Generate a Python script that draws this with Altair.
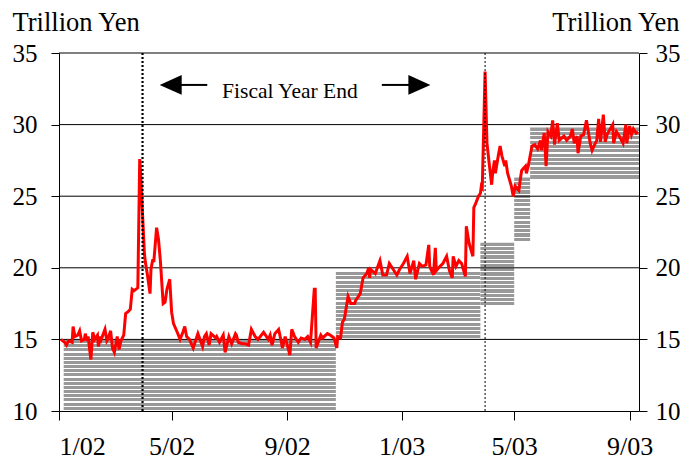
import altair as alt
import pandas as pd

# Current account balance, trillion yen
dates = [
    "2002-01-03", "2002-01-07", "2002-01-09", "2002-01-11", "2002-01-15", "2002-01-16",
    "2002-01-18", "2002-01-21", "2002-01-23", "2002-01-25", "2002-01-28", "2002-01-29",
    "2002-01-31", "2002-02-01", "2002-02-04", "2002-02-06", "2002-02-08", "2002-02-11",
    "2002-02-12", "2002-02-14", "2002-02-15", "2002-02-19", "2002-02-21", "2002-02-22",
    "2002-02-25", "2002-02-27", "2002-03-01", "2002-03-04", "2002-03-06", "2002-03-08",
    "2002-03-11", "2002-03-13", "2002-03-15", "2002-03-18", "2002-03-20", "2002-03-22",
    "2002-03-26", "2002-03-28", "2002-03-29", "2002-04-02", "2002-04-03", "2002-04-05",
    "2002-04-08", "2002-04-09", "2002-04-11", "2002-04-12", "2002-04-15", "2002-04-17",
    "2002-04-19", "2002-04-22", "2002-04-24", "2002-04-26", "2002-04-29", "2002-05-01",
    "2002-05-03", "2002-05-07", "2002-05-10", "2002-05-13", "2002-05-15", "2002-05-17",
    "2002-05-20", "2002-05-24", "2002-05-29", "2002-06-03", "2002-06-05",
    "2002-06-07", "2002-06-10", "2002-06-12", "2002-06-17", "2002-06-18", "2002-06-21",
    "2002-06-25", "2002-06-27", "2002-07-01", "2002-07-04", "2002-07-08", "2002-07-09",
    "2002-07-11", "2002-07-15", "2002-07-18", "2002-07-22", "2002-07-25", "2002-07-29",
    "2002-08-01", "2002-08-07", "2002-08-12", "2002-08-14", "2002-08-16", "2002-08-19",
    "2002-08-23", "2002-08-26", "2002-08-27", "2002-08-30", "2002-09-04", "2002-09-06",
    "2002-09-09", "2002-09-13", "2002-09-16", "2002-09-20", "2002-09-23", "2002-09-26",
    "2002-09-30", "2002-10-01", "2002-10-02", "2002-10-07", "2002-10-09", "2002-10-14",
    "2002-10-17", "2002-10-21", "2002-10-24", "2002-10-25", "2002-10-28",
    "2002-10-30", "2002-11-01", "2002-11-05", "2002-11-08", "2002-11-12", "2002-11-13",
    "2002-11-18", "2002-11-21", "2002-11-25", "2002-11-27", "2002-11-28", "2002-11-29",
    "2002-12-04", "2002-12-09", "2002-12-12", "2002-12-16", "2002-12-19", "2002-12-23",
    "2002-12-27", "2002-12-30", "2003-01-03", "2003-01-07", "2003-01-10", "2003-01-14",
    "2003-01-16", "2003-01-20", "2003-01-23", "2003-01-27", "2003-01-30", "2003-01-31",
    "2003-02-04", "2003-02-06", "2003-02-07", "2003-02-11", "2003-02-14", "2003-02-18",
    "2003-02-21", "2003-02-24", "2003-02-25", "2003-02-28", "2003-03-03", "2003-03-06",
    "2003-03-10", "2003-03-11", "2003-03-14", "2003-03-18", "2003-03-19", "2003-03-21",
    "2003-03-24", "2003-03-26", "2003-03-27", "2003-03-28", "2003-03-31",
    "2003-04-02", "2003-04-04", "2003-04-07", "2003-04-08", "2003-04-10", "2003-04-11",
    "2003-04-14", "2003-04-16", "2003-04-18", "2003-04-21", "2003-04-22", "2003-04-24",
    "2003-04-28", "2003-04-30", "2003-05-02", "2003-05-06", "2003-05-08", "2003-05-09",
    "2003-05-13", "2003-05-14", "2003-05-16", "2003-05-20", "2003-05-23", "2003-05-26",
    "2003-05-29", "2003-05-30", "2003-06-02", "2003-06-04", "2003-06-06", "2003-06-09",
    "2003-06-11", "2003-06-13", "2003-06-16", "2003-06-18", "2003-06-23", "2003-06-26",
    "2003-06-30", "2003-07-02", "2003-07-04", "2003-07-07", "2003-07-08", "2003-07-11",
    "2003-07-14", "2003-07-17", "2003-07-21", "2003-07-23", "2003-07-25", "2003-07-28",
    "2003-07-30", "2003-08-01", "2003-08-04", "2003-08-06", "2003-08-08", "2003-08-14",
    "2003-08-15", "2003-08-18", "2003-08-21", "2003-08-25", "2003-08-28", "2003-08-29",
    "2003-09-01", "2003-09-03", "2003-09-05", "2003-09-08", "2003-09-10",
]
balance = [
    15.0, 14.8, 14.6, 14.9, 14.8, 15.9,
    15.2, 15.3, 15.6, 14.9, 15.0, 15.4,
    14.9, 15.2, 13.6, 15.5, 15.0, 15.3,
    14.5, 15.2, 15.0, 15.7, 14.9, 15.0,
    15.6, 14.4, 14.1, 15.2, 14.3, 14.9,
    15.3, 16.8, 16.9, 17.1, 18.5, 18.4,
    18.6, 27.6, 26.5, 21.0, 20.4, 19.6,
    18.2, 19.9, 20.6, 20.4, 22.8, 22.0,
    20.5, 17.5, 17.6, 18.5, 19.2, 16.9,
    16.1, 15.5, 15.0, 15.5, 15.9, 15.2,
    15.0, 14.4, 15.4, 14.5, 15.2,
    15.4, 14.6, 15.4, 15.1, 15.2, 14.8,
    15.3, 14.1, 15.2, 14.7, 15.4, 15.3,
    14.8, 14.7, 14.7, 14.6, 15.7, 15.2,
    15.0, 15.5, 15.0, 15.3, 14.6, 15.4,
    15.7, 14.8, 14.4, 15.2, 13.9, 15.7,
    15.2, 14.8, 15.1, 15.0, 15.2, 14.8,
    18.5, 18.5, 14.4, 15.3, 15.1, 15.4,
    15.3, 15.1, 14.4, 15.2, 15.1,
    16.2, 16.4, 18.0, 17.5, 17.5, 17.7,
    18.2, 19.3, 19.6, 20.0, 19.3, 19.9,
    19.6, 20.5, 19.5, 19.5, 20.3, 19.9,
    19.5, 19.9, 20.3, 20.8, 19.6, 20.5,
    19.2, 20.3, 20.1, 20.2, 21.6, 20.1,
    19.5, 21.4, 19.8, 20.1, 20.3, 20.8,
    19.8, 19.3, 20.8, 20.1, 20.5, 20.3,
    19.4, 22.9, 21.7, 20.8, 24.2, 24.5,
    25.0, 25.2, 25.7, 25.6, 33.7,
    28.7, 27.5, 25.8, 26.6, 27.5, 26.6,
    27.8, 28.5, 27.8, 27.1, 27.5, 26.6,
    25.7, 25.0, 25.7, 25.4, 26.4, 26.8,
    27.1, 26.6, 27.1, 28.5, 28.6, 28.3,
    28.9, 28.2, 29.4, 27.1, 29.5, 29.2,
    30.3, 28.6, 30.1, 28.9, 29.2, 28.9,
    29.2, 29.7, 28.7, 29.2, 28.0, 29.2,
    29.3, 30.3, 28.7, 28.2, 28.5, 28.9,
    30.4, 28.8, 30.7, 28.8, 29.3, 30.0,
    28.7, 29.5, 29.2, 28.7, 30.0, 28.7,
    29.9, 29.3, 29.7, 29.4, 29.5,
]

# target ranges (hatched blocks)
band_start = ["2002-01-06", "2002-10-23", "2003-03-26", "2003-05-01", "2003-05-18"]
band_end = ["2002-10-23", "2003-03-26", "2003-05-01", "2003-05-18", "2003-09-11"]
band_low = [10.0, 15.0, 17.3, 21.8, 26.15]
band_high = [14.95, 19.7, 21.75, 26.3, 29.8]

fy_end = ["2002-03-31", "2003-03-31"]
grid_vals = [15, 20, 25, 30, 35]
y_ticks = [10, 15, 20, 25, 30, 35]
x_ticks = [(2002, 1), (2002, 5), (2002, 9), (2003, 1), (2003, 5), (2003, 9)]

# annotation placement
note_text = "Fiscal Year End"
note_date = "2002-09-04"
note_val = 31.86
arrow_val = 32.77
left_shaft = ("2002-05-07", "2002-06-08")
left_head = "2002-04-30"
right_shaft = ("2002-12-11", "2003-01-12")
right_head = "2003-01-20"

FONT = "Liberation Serif"
GRAY = "#999999"
W, H = 580, 358

line_df = pd.DataFrame({"date": pd.to_datetime(dates), "value": balance})
band_df = pd.DataFrame({
    "start": pd.to_datetime(band_start), "end": pd.to_datetime(band_end),
    "low": band_low, "high": band_high,
})
fy_df = pd.DataFrame({"date": pd.to_datetime(fy_end)})
grid_df = pd.DataFrame({"v": grid_vals})

xscale = alt.Scale(domain=[alt.DateTime(year=2002, month=1, date=1),
                           alt.DateTime(year=2003, month=9, date=11)])
yscale = alt.Scale(domain=[10, 35], nice=False)

# one x axis shared by every layer (an axis=None in any layer would switch it off)
xaxis = alt.Axis(values=[alt.DateTime(year=y, month=m, date=1) for y, m in x_ticks],
                 format="%-m/%y", labelFont=FONT, labelFontSize=26, labelColor="black",
                 tickSize=9, tickColor="black", domainColor="black", labelPadding=13,
                 grid=False, title=None, zindex=1)


def X(field):
    return alt.X(field, scale=xscale, axis=xaxis)


def stripes(n, share=0.72):
    stops = []
    for i in range(n):
        a, b, c = i / n, (i + share) / n, (i + 1) / n
        stops += [{"offset": a, "color": GRAY}, {"offset": b, "color": GRAY},
                  {"offset": b, "color": "white"}, {"offset": c, "color": "white"}]
    return {"gradient": "linear", "x1": 0, "y1": 0, "x2": 0, "y2": 1, "stops": stops}


band_layers = []
for i in range(len(band_df)):
    px = (band_high[i] - band_low[i]) * H / 25.0
    band_layers.append(
        alt.Chart(band_df.iloc[[i]]).mark_rect(fill=stripes(max(1, round(px / 4.2))))
        .encode(x=X("start:T"), x2="end:T",
                y=alt.Y("low:Q", scale=yscale, axis=None), y2="high:Q")
    )

axis_common = dict(values=y_ticks, labelFont=FONT, labelFontSize=25, labelColor="black",
                   tickSize=8, tickColor="black", domainColor="black", grid=False,
                   title="Trillion Yen", titleFont=FONT, titleFontSize=26.5,
                   titleFontWeight="normal", titleColor="black", titleAngle=0,
                   titleBaseline="alphabetic", titleY=-23, zindex=1)

grid = alt.Chart(grid_df).mark_rule(color="black", strokeWidth=1).encode(
    y=alt.Y("v:Q", scale=yscale,
            axis=alt.Axis(orient="right", titleAlign="right", titleX=40,
                          labelPadding=8, **axis_common))
)

line = alt.Chart(line_df).mark_line(color="#ff0000", strokeWidth=3).encode(
    x=X("date:T"),
    y=alt.Y("value:Q", scale=yscale,
            axis=alt.Axis(orient="left", titleAlign="left", titleX=-47,
                          labelPadding=14, **axis_common)),
)

fy_thick = alt.Chart(fy_df.iloc[[0]]).mark_rule(
    color="black", strokeWidth=2.2, strokeDash=[2, 2]
).encode(x=X("date:T"))
fy_thin = alt.Chart(fy_df.iloc[[1]]).mark_rule(
    color="black", strokeWidth=1, strokeDash=[2, 2]
).encode(x=X("date:T"))

note_df = pd.DataFrame({"date": pd.to_datetime([note_date]), "v": [note_val], "t": [note_text]})
note = alt.Chart(note_df).mark_text(
    font=FONT, fontSize=21.5, color="black", align="center", baseline="alphabetic"
).encode(x=X("date:T"), y=alt.Y("v:Q", scale=yscale, axis=None), text="t:N")

shaft_df = pd.DataFrame({
    "a": pd.to_datetime([left_shaft[0], right_shaft[0]]),
    "b": pd.to_datetime([left_shaft[1], right_shaft[1]]),
    "v": [arrow_val, arrow_val],
})
shafts = alt.Chart(shaft_df).mark_rule(color="black", strokeWidth=2).encode(
    x=X("a:T"), x2="b:T", y=alt.Y("v:Q", scale=yscale, axis=None))

head_l = alt.Chart(pd.DataFrame({"date": pd.to_datetime([left_head]), "v": [arrow_val]})).mark_point(
    shape="M -1 0 L 1 -0.9 L 1 0.9 Z", size=484, filled=True, color="black", opacity=1
).encode(x=X("date:T"), y=alt.Y("v:Q", scale=yscale, axis=None))
head_r = alt.Chart(pd.DataFrame({"date": pd.to_datetime([right_head]), "v": [arrow_val]})).mark_point(
    shape="M 1 0 L -1 -0.9 L -1 0.9 Z", size=484, filled=True, color="black", opacity=1
).encode(x=X("date:T"), y=alt.Y("v:Q", scale=yscale, axis=None))

chart = alt.layer(
    *band_layers, grid, line, fy_thick, fy_thin, note, shafts, head_l, head_r
).resolve_axis(y="independent").properties(
    width=W, height=H,
    autosize=alt.AutoSizeParams(type="none"),
    padding={"left": 51, "top": 45, "right": 41, "bottom": 49},
    background="white",
).configure_view(stroke=None)

chart.save("out.html", embed_options={"renderer": "svg", "actions": False})
